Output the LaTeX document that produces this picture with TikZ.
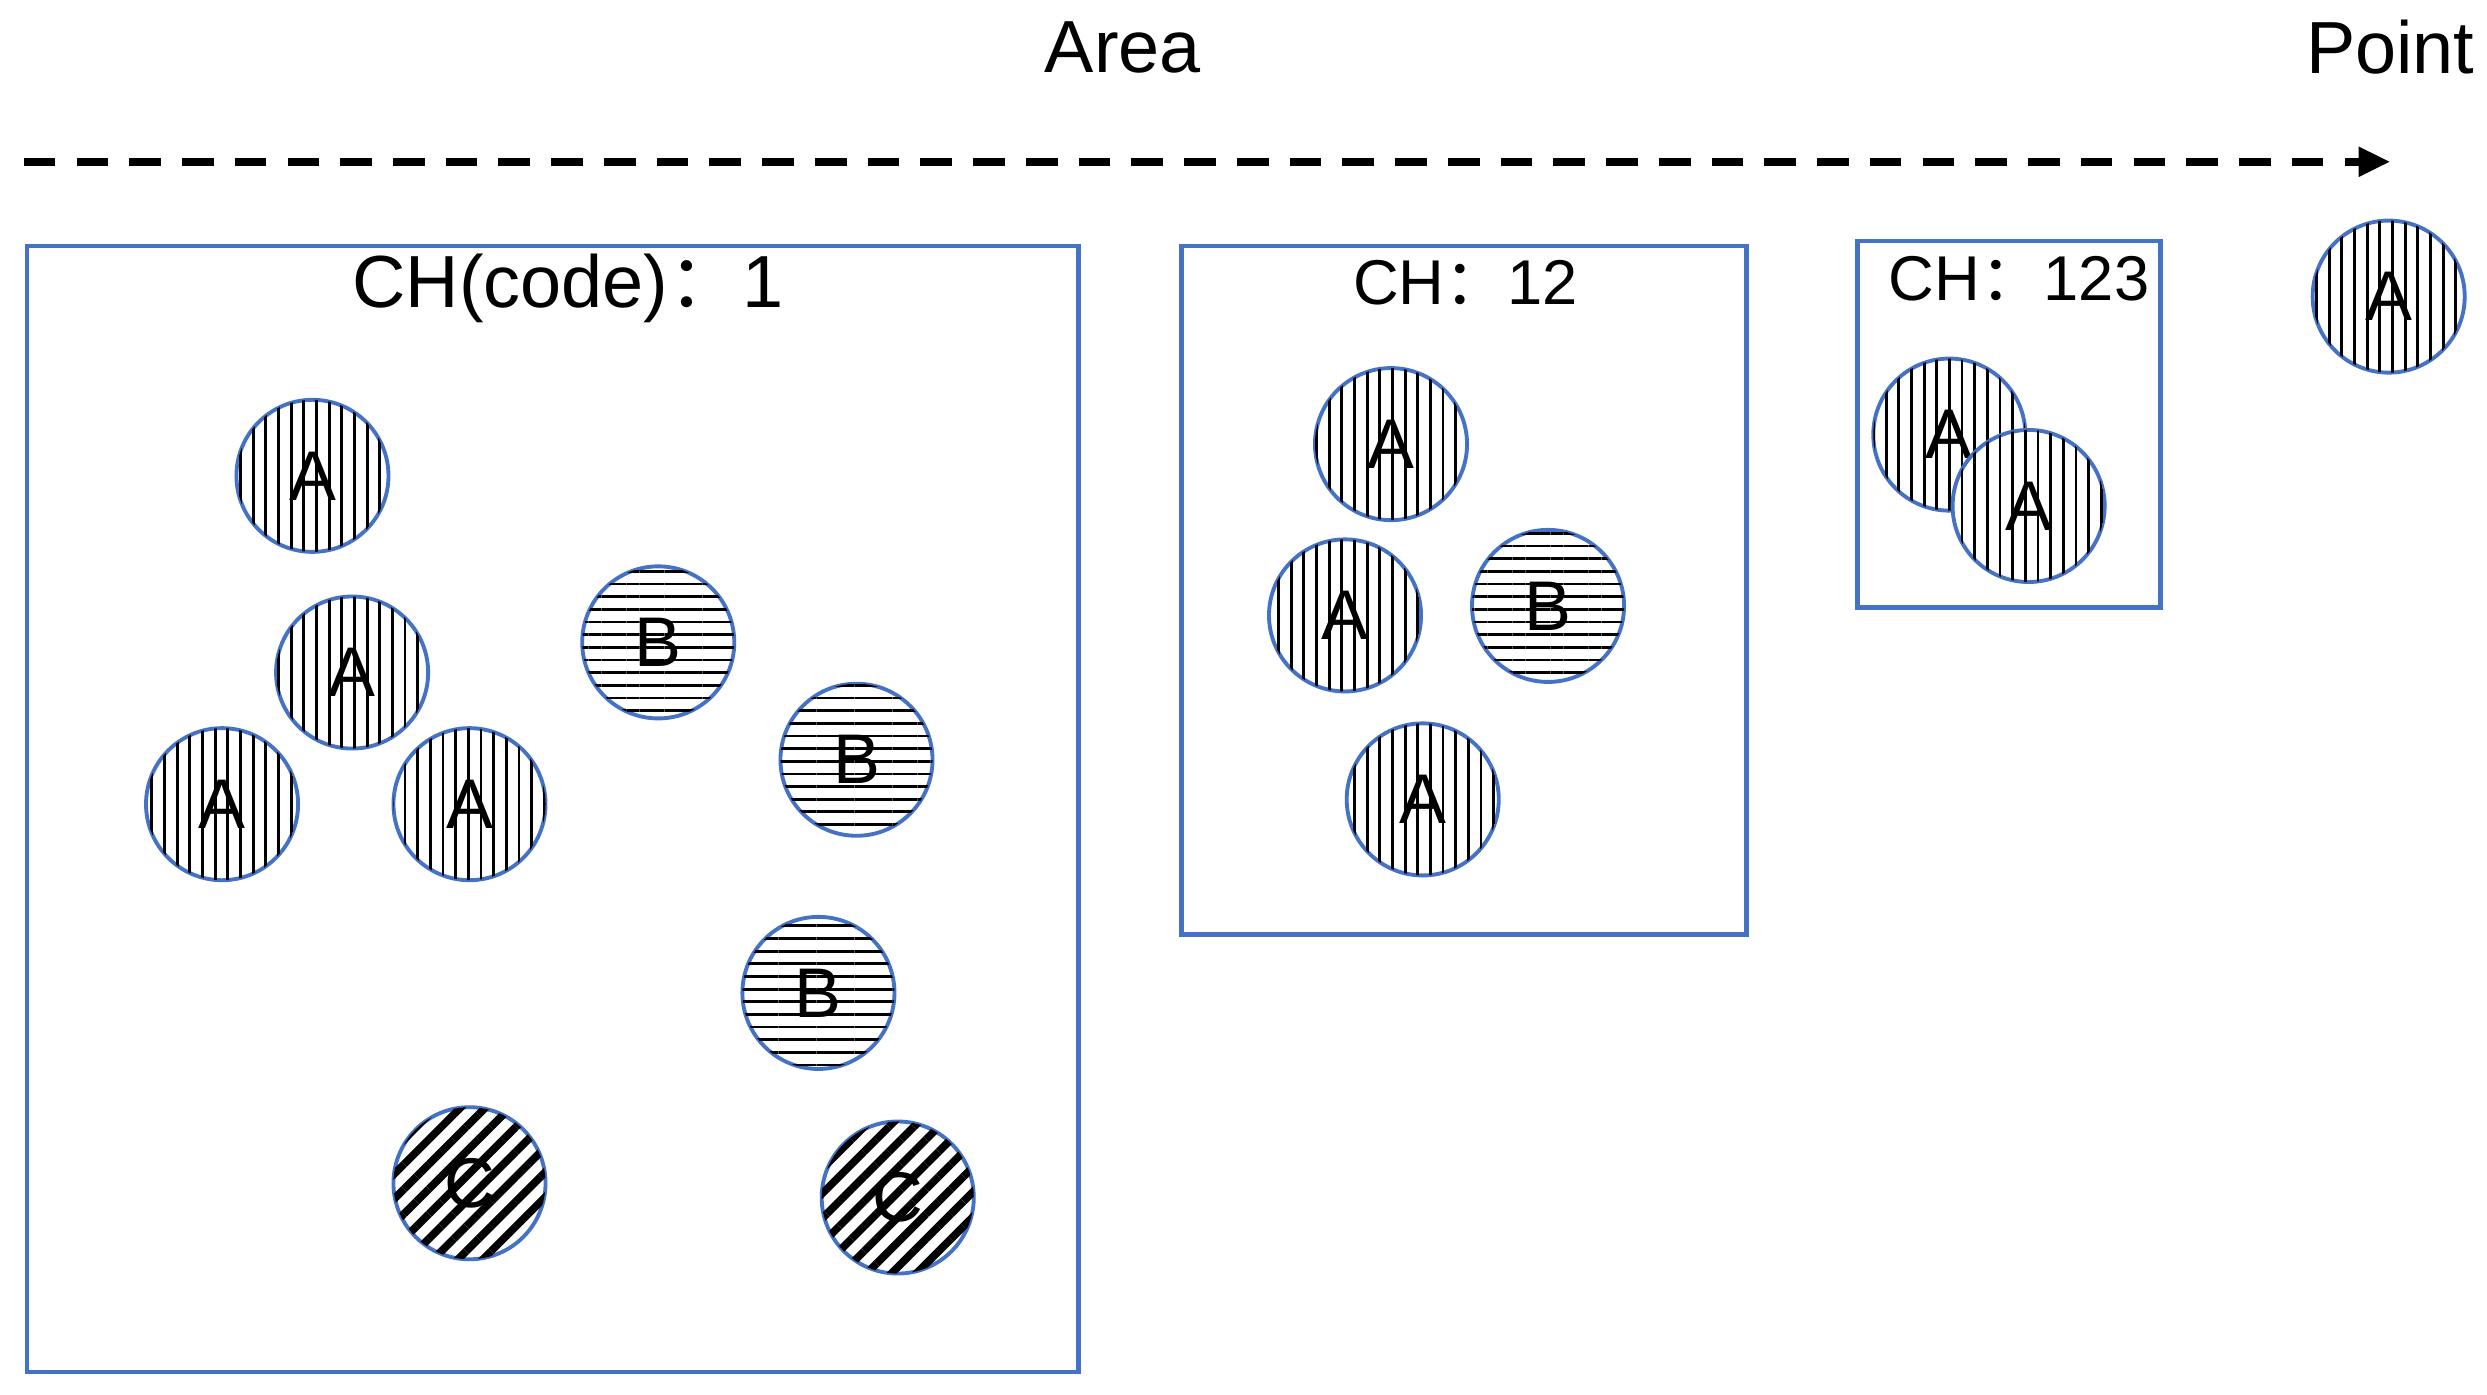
\documentclass[tikz,border=0pt]{standalone}
\usepackage{fontspec}
\setmainfont{Liberation Sans}
\newfontfamily\cjk{Noto Sans CJK SC}
\usetikzlibrary{patterns.meta,arrows.meta}
\definecolor{bblue}{HTML}{4472C4}
\begin{document}
\begin{tikzpicture}[x=0.01586cm,y=-0.01586cm,
  frame/.style={draw=bblue,line width=1.3pt},
  ball/.style={circle,draw=bblue,line width=1.1pt,minimum size=1.52cm,inner sep=0pt,font=\fontsize{20}{22}\selectfont},
  va/.style={ball,fill=white,preaction={fill=white},postaction={pattern={Lines[angle=90,distance=3.6pt,line width=0.8pt]}}},
  hb/.style={ball,fill=white,postaction={pattern={Lines[angle=0,distance=3.6pt,line width=0.8pt]}}},
  dc/.style={ball,fill=white,postaction={pattern={Lines[angle=45,distance=5pt,line width=2.2pt]}}},
  big/.style={font=\fontsize{21}{24}\selectfont},
  mid/.style={font=\fontsize{18}{20}\selectfont}]
\useasboundingbox (0,0) rectangle (1568,879);
\node[big] (area) at (708,30) {Area};
\node[big] (point) at (1507,30) {Point};
\coordinate (as) at (15,102); \coordinate (ae) at (1507,102);
\draw[line width=2.2pt,dash pattern=on 9pt off 6pt,-{Triangle[length=9pt,width=8pt]}] (as) -- (ae);
\draw[frame] (17,155) rectangle (680,865);
\draw[frame] (745,155) rectangle (1101,589);
\draw[frame] (1171,152) rectangle (1362,383);
\node[big] (l1) at (358,182) {CH(code){\cjk ：}1};
\node[mid] (l2) at (924,178) {CH{\cjk ：}12};
\node[mid] (l3) at (1273,176) {CH{\cjk ：}123};
\foreach \p/\n in {{(197,300)}/a1,{(222,424)}/a2,{(140,507)}/a3,{(296,507)}/a4,{(877,280)}/a5,{(848,388)}/a6,{(897,504)}/a7,{(1229,274)}/a8,{(1279,319)}/a9,{(1506,187)}/a10}
  \node[va] (\n) at \p {A};
\foreach \p/\n in {{(415,405)}/b1,{(540,479)}/b2,{(516,626)}/b3,{(976,382)}/b4}
  \node[hb] (\n) at \p {B};
\foreach \p/\n in {{(296,746)}/c1,{(566,755)}/c2}
  \node[dc] (\n) at \p {C};
\end{tikzpicture}
\end{document}
